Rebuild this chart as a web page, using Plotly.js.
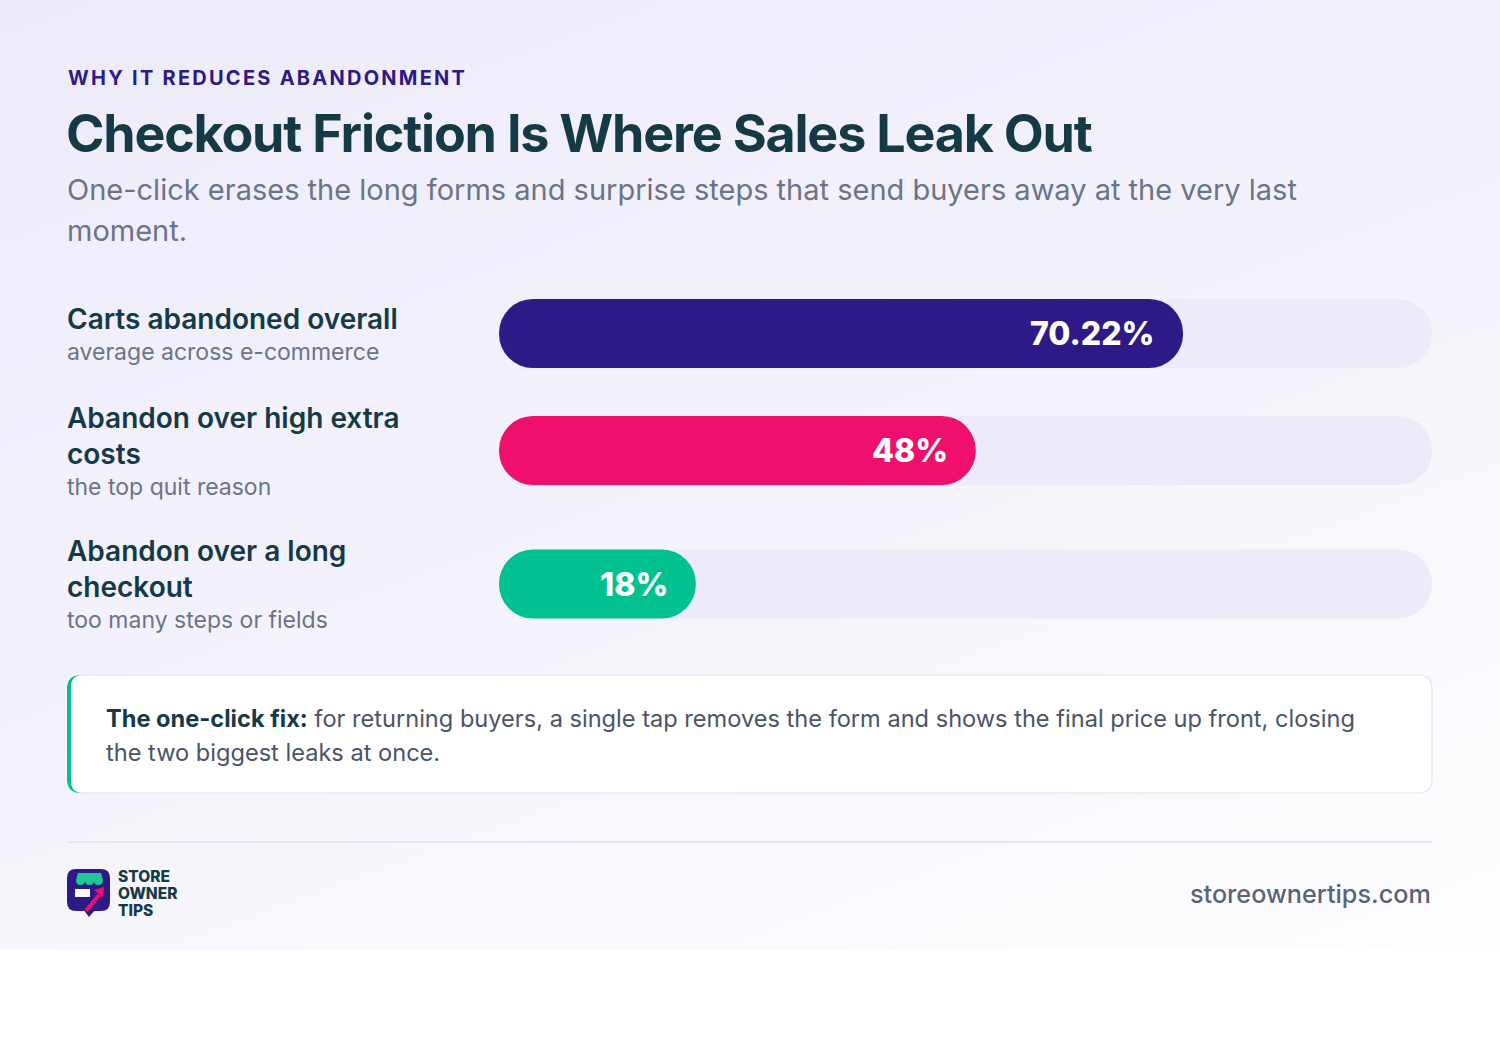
<!DOCTYPE html>
<html>
<head>
<meta charset="utf-8">
<script src="https://cdn.plot.ly/plotly-3.0.1.min.js"></script>
<style>
  html, body { margin: 0; padding: 0; background: #ffffff; }
  #bg { position: absolute; left: 0; top: 0; width: 1500px; height: 950px;
        background: linear-gradient(160deg, #eeebf9 0%, #f3f2fc 45%, #fbfbfe 85%, #fdfdff 100%); }
  #chart { position: absolute; left: 0; top: 0; width: 1500px; height: 1063px; }
</style>
</head>
<body>
<div id="bg"></div>
<div id="chart"></div>
<script>
// ---------------- DATA ----------------
const eyebrow = "WHY IT REDUCES ABANDONMENT";
const headline = "Checkout Friction Is Where Sales Leak Out";
const subtitleLines = [
  "One-click erases the long forms and surprise steps that send buyers away at the very last",
  "moment."
];
const categories = [
  "Carts abandoned overall",
  "Abandon over high extra costs",
  "Abandon over a long checkout"
];
const subLabels = [
  "average across e-commerce",
  "the top quit reason",
  "too many steps or fields"
];
const values = [70.22, 48, 18];
const valueLabels = ["70.22%", "48%", "18%"];
const scaleMax = 100;
const calloutLead = "The one-click fix:";
const calloutLines = [
  "for returning buyers, a single tap removes the form and shows the final price up front, closing",
  "the two biggest leaks at once."
];
const brandLines = ["STORE", "OWNER", "TIPS"];
const siteUrl = "storeownertips.com";

// ---------------- STYLE ----------------
const W = 1500, H = 1063;
const FONT = "Inter, 'Noto Sans', sans-serif";
const barColors = ["#2e1a87", "#ef0f6c", "#00c18f"];
const trackColor = "#ecebf9";
const darkText = "#163a45";
const grayText = "#6b7488";
const X = px => px / W;
const Y = py => 1 - py / H;

// wrap category titles
function wrap(text, maxChars) {
  const words = text.split(" ");
  const lines = [];
  let cur = "";
  words.forEach(w => {
    const t = cur ? cur + " " + w : w;
    if (t.length > maxChars && cur) { lines.push(cur); cur = w; } else { cur = t; }
  });
  if (cur) lines.push(cur);
  return lines;
}
const titleLines = categories.map(c => wrap(c, 24));

// row positions (in "line" units) from label line counts
const lineUnitPx = 33, gapPx = 34.5;
const rowLines = titleLines.map(l => l.length + 1);
const centers = [];
rowLines.forEach((n, i) => {
  if (i === 0) centers.push(0);
  else centers.push(centers[i - 1] + (rowLines[i - 1] + n) / 2 + gapPx / lineUnitPx);
});
const plotTopPx = 290, plotBotPx = 630, firstCenterPx = 333.5;
const topUnit = -(firstCenterPx - plotTopPx) / lineUnitPx;
const botUnit = topUnit + (plotBotPx - plotTopPx) / lineUnitPx;
const barThick = 69 / lineUnitPx;

const capPad = 3.1;   // fill pill extends past its value by the rounded cap

const common = {
  type: "bar", orientation: "h", y: centers, width: barThick,
  base: centers.map(() => 0),
  hoverinfo: "skip", showlegend: false
};
const traces = [
  Object.assign({}, common, {
    x: centers.map(() => scaleMax),
    marker: { color: trackColor, cornerradius: "50%", line: { width: 0 } }
  }),
  Object.assign({}, common, {
    x: values.map(v => v + capPad),
    marker: { color: barColors, cornerradius: "50%", line: { width: 0 } }
  })
];

const ann = [];
// header
ann.push({ xref: "paper", yref: "paper", x: X(66), y: Y(78), xanchor: "left", yanchor: "middle",
  showarrow: false, text: '<span style="letter-spacing:2.25px">' + eyebrow + '</span>',
  font: { family: FONT, size: 20, color: "#2e1a87", weight: 700 } });
ann.push({ xref: "paper", yref: "paper", x: X(64), y: Y(133), xanchor: "left", yanchor: "middle",
  showarrow: false, text: '<span style="letter-spacing:-1.2px">' + headline + '</span>',
  font: { family: FONT, size: 52, color: darkText, weight: 700 } });
subtitleLines.forEach((t, i) => ann.push({ xref: "paper", yref: "paper", x: X(65), y: Y(190 + 40 * i),
  xanchor: "left", yanchor: "middle", showarrow: false, text: t,
  font: { family: FONT, size: 29, color: grayText, weight: 400 } }));

// row labels
titleLines.forEach((lines, i) => {
  const tl = lines.length;
  ann.push({ xref: "paper", yref: "y", x: X(65), y: centers[i], xanchor: "left", yanchor: "middle",
    yshift: 15, showarrow: false, align: "left", text: lines.join("<br>"),
    font: { family: FONT, size: 28, color: darkText, weight: 600 } });
  ann.push({ xref: "paper", yref: "y", x: X(65), y: centers[i], xanchor: "left", yanchor: "middle",
    yshift: -tl * 17.5 - 1, showarrow: false, align: "left", text: subLabels[i],
    font: { family: FONT, size: 23, color: grayText, weight: 400 } });
  ann.push({ xref: "x", yref: "y", x: values[i] + capPad, y: centers[i], xanchor: "right", yanchor: "middle",
    xshift: -26, showarrow: false, text: valueLabels[i],
    font: { family: FONT, size: 32, color: "#ffffff", weight: 800 } });
});

// callout
ann.push({ xref: "paper", yref: "paper", x: X(104), y: Y(718), xanchor: "left", yanchor: "middle",
  showarrow: false, text: '<b style="color:' + darkText + '">' + calloutLead + '</b> ' + calloutLines[0],
  font: { family: FONT, size: 23.6, color: "#4a5466", weight: 400 } });
ann.push({ xref: "paper", yref: "paper", x: X(104), y: Y(752), xanchor: "left", yanchor: "middle",
  showarrow: false, text: calloutLines[1],
  font: { family: FONT, size: 23.6, color: "#4a5466", weight: 400 } });

// footer
brandLines.forEach((t, i) => ann.push({ xref: "paper", yref: "paper", x: X(116), y: Y(876 + 17 * i),
  xanchor: "left", yanchor: "middle", showarrow: false, text: t,
  font: { family: FONT, size: 15.5, color: darkText, weight: 800 } }));
ann.push({ xref: "paper", yref: "paper", x: X(1433), y: Y(894), xanchor: "right", yanchor: "middle",
  showarrow: false, text: siteUrl, font: { family: FONT, size: 25.2, color: "#5a6478", weight: 500 } });

// shapes
function roundRect(x0, y0, x1, y1, r) {
  return "M" + X(x0 + r) + "," + Y(y0) +
    " L" + X(x1 - r) + "," + Y(y0) + " Q" + X(x1) + "," + Y(y0) + " " + X(x1) + "," + Y(y0 + r) +
    " L" + X(x1) + "," + Y(y1 - r) + " Q" + X(x1) + "," + Y(y1) + " " + X(x1 - r) + "," + Y(y1) +
    " L" + X(x0 + r) + "," + Y(y1) + " Q" + X(x0) + "," + Y(y1) + " " + X(x0) + "," + Y(y1 - r) +
    " L" + X(x0) + "," + Y(y0 + r) + " Q" + X(x0) + "," + Y(y0) + " " + X(x0 + r) + "," + Y(y0) + " Z";
}
function poly(pts, close) {
  return pts.map((p, i) => (i ? " L" : "M") + X(p[0]) + "," + Y(p[1])).join("") + (close ? " Z" : "");
}
const shapes = [];
const cb = { x0: 67, y0: 675, x1: 1432, y1: 793, r: 14 };
shapes.push({ type: "path", xref: "paper", yref: "paper", path: roundRect(cb.x0, cb.y0, cb.x1, cb.y1, cb.r),
  fillcolor: "#00c18f", line: { width: 0 } });
shapes.push({ type: "path", xref: "paper", yref: "paper", path: roundRect(cb.x0 + 4, cb.y0, cb.x1, cb.y1, 12),
  fillcolor: "#ffffff", line: { width: 0 } });
shapes.push({ type: "path", xref: "paper", yref: "paper",
  path: "M" + X(cb.x0 + 14) + "," + Y(cb.y0) + " L" + X(cb.x1 - cb.r) + "," + Y(cb.y0) +
    " Q" + X(cb.x1) + "," + Y(cb.y0) + " " + X(cb.x1) + "," + Y(cb.y0 + cb.r) +
    " L" + X(cb.x1) + "," + Y(cb.y1 - cb.r) + " Q" + X(cb.x1) + "," + Y(cb.y1) + " " + X(cb.x1 - cb.r) + "," + Y(cb.y1) +
    " L" + X(cb.x0 + 14) + "," + Y(cb.y1),
  line: { color: "#e4e2ee", width: 1.2 } });
// divider
shapes.push({ type: "line", xref: "paper", yref: "paper", x0: X(67), x1: X(1432), y0: Y(842), y1: Y(842),
  line: { color: "#e3e1ee", width: 1.5 } });
// logo icon
shapes.push({ type: "path", xref: "paper", yref: "paper", path: roundRect(67, 869, 110, 911, 9),
  fillcolor: "#2e1a87", line: { width: 0 } });
shapes.push({ type: "path", xref: "paper", yref: "paper", path: poly([[83, 909], [89, 917], [96, 909]], true),
  fillcolor: "#2e1a87", line: { width: 0 } });
shapes.push({ type: "path", xref: "paper", yref: "paper",
  path: "M" + X(76) + "," + Y(880) + " L" + X(78) + "," + Y(873) + " L" + X(101) + "," + Y(873) + " L" + X(103) + "," + Y(880) +
    " Q" + X(103) + "," + Y(885) + " " + X(98) + "," + Y(885) + " Q" + X(94) + "," + Y(885) + " " + X(94) + "," + Y(881) +
    " Q" + X(94) + "," + Y(885) + " " + X(89.5) + "," + Y(885) + " Q" + X(85) + "," + Y(885) + " " + X(85) + "," + Y(881) +
    " Q" + X(85) + "," + Y(885) + " " + X(80.5) + "," + Y(885) + " Q" + X(76) + "," + Y(885) + " " + X(76) + "," + Y(880) + " Z",
  fillcolor: "#1fc995", line: { width: 0 } });
shapes.push({ type: "rect", xref: "paper", yref: "paper", x0: X(75), x1: X(90), y0: Y(897), y1: Y(889),
  fillcolor: "#ffffff", line: { width: 0 } });
shapes.push({ type: "line", xref: "paper", yref: "paper", x0: X(86), y0: Y(911), x1: X(99), y1: Y(895),
  line: { color: "#ef0f6c", width: 4 } });
shapes.push({ type: "path", xref: "paper", yref: "paper", path: poly([[94, 890], [104, 887], [103, 898]], true),
  fillcolor: "#ef0f6c", line: { width: 0 } });

const layout = {
  width: W, height: H,
  margin: { l: 0, r: 0, t: 0, b: 0, pad: 0 },
  paper_bgcolor: "rgba(0,0,0,0)", plot_bgcolor: "rgba(0,0,0,0)",
  barmode: "overlay",
  xaxis: { domain: [X(499), X(1432)], range: [0, scaleMax], visible: false, fixedrange: true },
  yaxis: { domain: [Y(plotBotPx), Y(plotTopPx)], range: [botUnit, topUnit], visible: false, fixedrange: true },
  annotations: ann,
  shapes: shapes,
  font: { family: FONT }
};
Plotly.newPlot("chart", traces, layout, { staticPlot: true, displayModeBar: false });
</script>
</body>
</html>
